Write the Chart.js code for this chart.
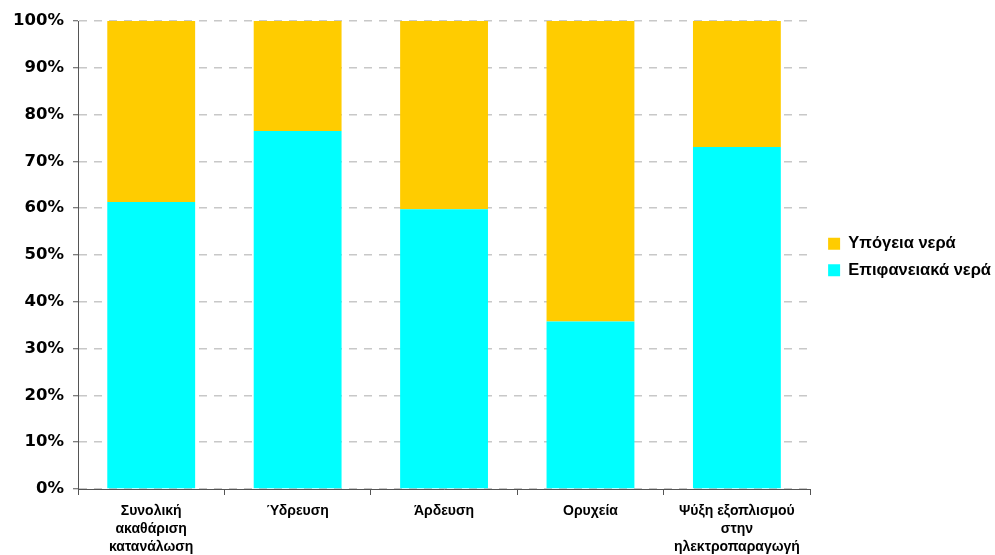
<!DOCTYPE html>
<html>
<head>
<meta charset="utf-8">
<script src="https://cdn.jsdelivr.net/npm/chart.js@4/dist/chart.umd.min.js"></script>
<style>
  html, body { margin: 0; padding: 0; background: #ffffff; }
  #wrap { width: 995px; height: 555px; position: relative; }
</style>
</head>
<body>
<div id="wrap"><canvas id="chart" width="995" height="555"></canvas></div>
<script>
// Water abstraction by use: share from surface and ground water (%)
const categories = [
  ['Συνολική', 'ακαθάριση', 'κατανάλωση'],
  ['Ύδρευση'],
  ['Άρδευση'],
  ['Ορυχεία'],
  ['Ψύξη εξοπλισμού', 'στην', 'ηλεκτροπαραγωγή']
];
const surfaceWater = [61.3, 76.5, 59.8, 35.8, 73.1];
const groundWater = [38.7, 23.5, 40.2, 64.2, 26.9];
const seriesNames = ['Επιφανειακά νερά', 'Υπόγεια νερά'];
const yTicks = [0, 10, 20, 30, 40, 50, 60, 70, 80, 90, 100];

// move the legend block a little right of the plot and up towards its middle
const legendShift = {
  id: 'legendShift',
  afterLayout(chart) {
    const lg = chart.legend;
    if (lg) {
      lg.left += 8; lg.right += 8;
      lg.top -= 31; lg.bottom -= 31;
    }
  }
};

new Chart(document.getElementById('chart'), {
  type: 'bar',
  data: {
    labels: categories,
    datasets: [
      { label: seriesNames[0], data: surfaceWater, backgroundColor: '#00FFFF', borderWidth: 0 },
      { label: seriesNames[1], data: groundWater, backgroundColor: '#FFCC00', borderWidth: 0 }
    ]
  },
  options: {
    responsive: false,
    animation: false,
    devicePixelRatio: 1,
    layout: { padding: { top: 21, left: 0, right: 2, bottom: 0 } },
    datasets: { bar: { categoryPercentage: 1.0, barPercentage: 0.6 } },
    plugins: {
      tooltip: { enabled: false },
      legend: {
        position: 'right',
        reverse: true,
        labels: {
          boxWidth: 12,
          boxHeight: 12,
          padding: 10,
          color: '#000000',
          font: { family: '"Liberation Sans", Arial, sans-serif', size: 16.5, weight: 'bold' }
        }
      }
    },
    scales: {
      x: {
        stacked: true,
        offset: true,
        grid: {
          offset: true,
          drawOnChartArea: false,
          drawTicks: true,
          tickLength: 6,
          color: '#555555'
        },
        border: { display: true, color: '#555555', width: 1 },
        ticks: {
          color: '#000000',
          padding: 7,
          maxRotation: 0,
          autoSkip: false,
          font: { family: '"Liberation Sans", Arial, sans-serif', size: 14, weight: 'bold', lineHeight: 1.3 }
        },
        afterFit(scale) { scale.height = 66; }
      },
      y: {
        stacked: true,
        min: 0,
        max: 100,
        afterBuildTicks(scale) { scale.ticks = yTicks.map(v => ({ value: v })); },
        grid: {
          color: '#c8c8c8',
          lineWidth: 1.5,
          drawTicks: true,
          tickLength: 5,
          tickColor: '#555555',
          tickWidth: 1
        },
        border: { display: true, color: '#555555', width: 1, dash: [8, 7] },
        ticks: {
          color: '#000000',
          padding: 9,
          font: { family: '"DejaVu Sans", Verdana, sans-serif', size: 16.5, weight: 'bold' },
          callback: v => v + '%'
        },
        afterFit(scale) { scale.width = 78; }
      }
    }
  },
  plugins: [legendShift]
});
</script>
</body>
</html>
